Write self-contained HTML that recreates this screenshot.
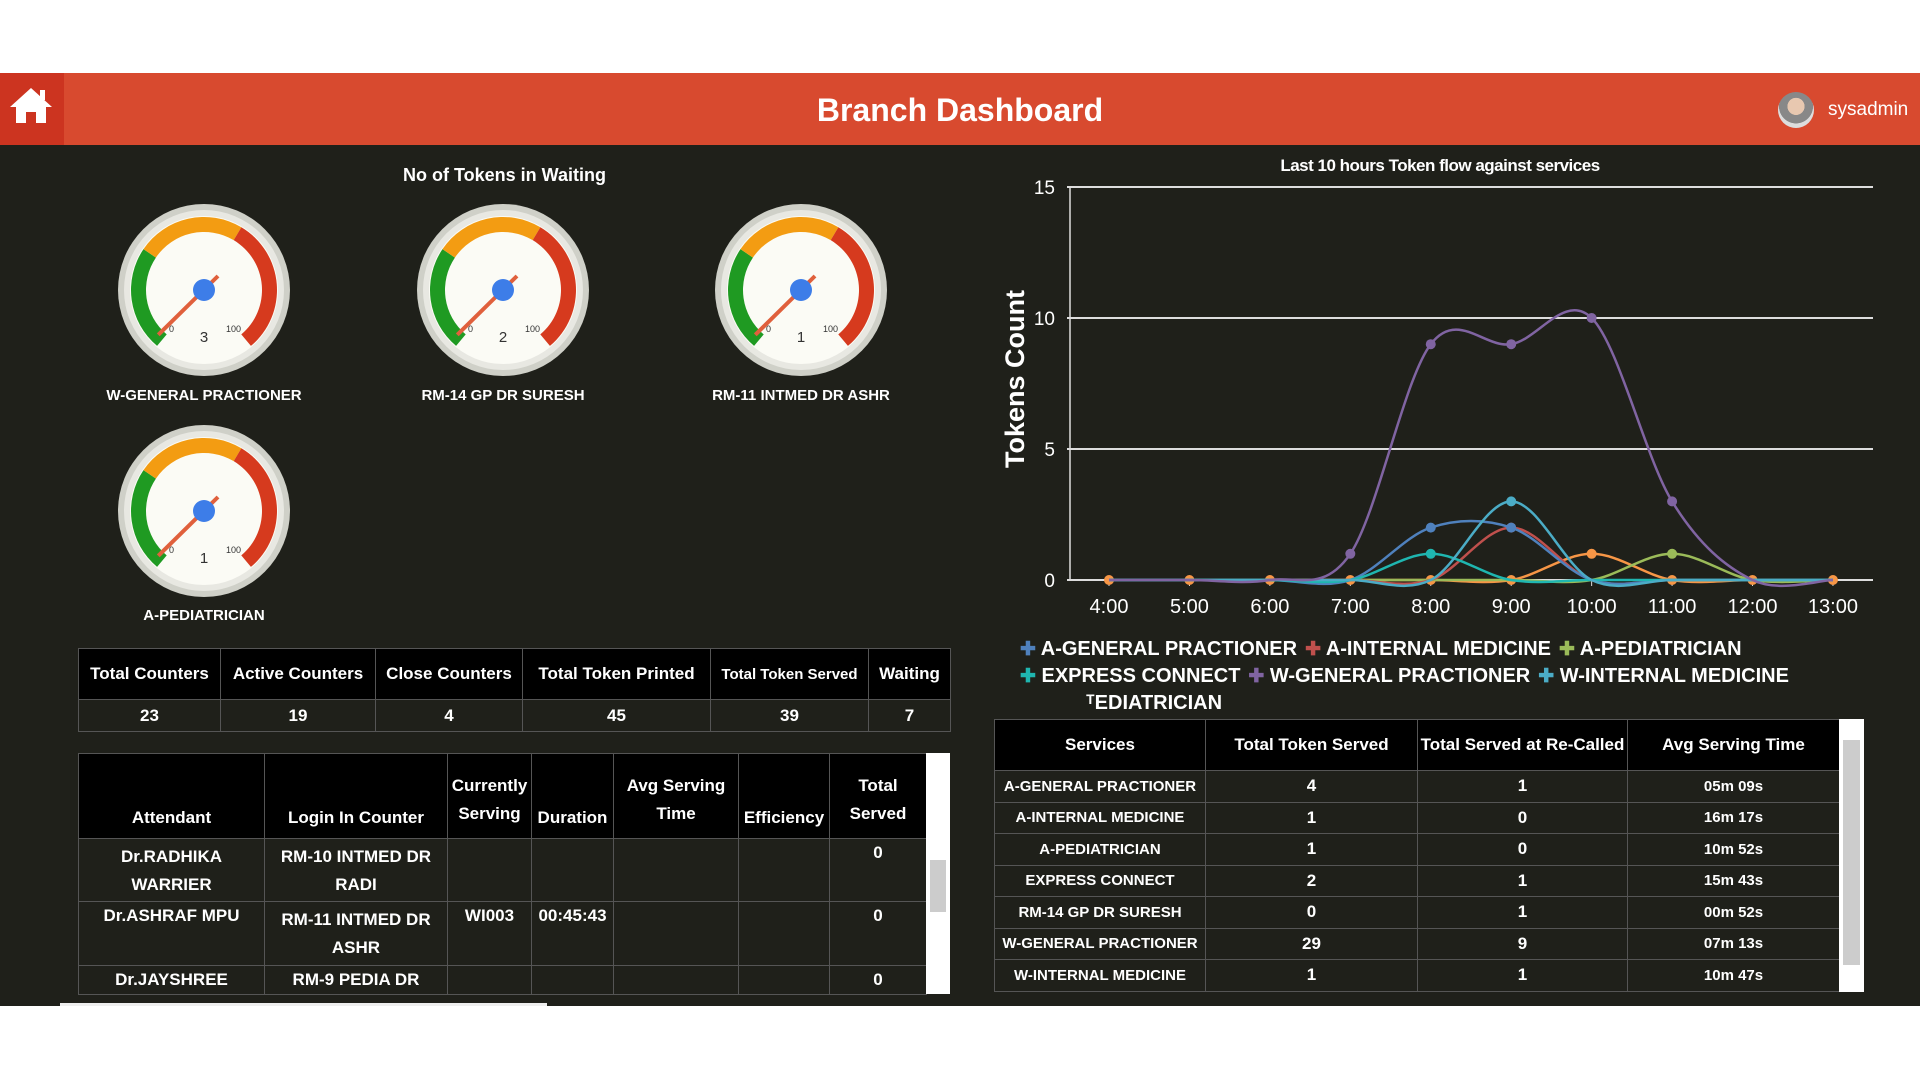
<!DOCTYPE html>
<html><head><meta charset="utf-8">
<style>
*{margin:0;padding:0;box-sizing:border-box}
body{width:1920px;height:1080px;background:#fff;position:relative;overflow:hidden;font-family:"Liberation Sans Narrow","Liberation Sans",sans-serif;color:#fff}
.abs{position:absolute}
#hdr{left:0;top:73px;width:1920px;height:72px;background:#d84a2f}
#home{left:0;top:73px;width:64px;height:72px;background:#cc3420}
#main{left:0;top:145px;width:1920px;height:861px;background:#1f201a}
.t{position:absolute;white-space:nowrap;font-weight:bold}
table{border-collapse:collapse;position:absolute;table-layout:fixed}
td,th{border:1px solid #555;text-align:center;font-weight:bold;font-size:17px;color:#fff}
th{background:#000}
td{background:#1f201a}
</style></head><body>
<div id="hdr" class="abs"></div>
<div id="home" class="abs"></div>
<svg class="abs" style="left:8px;top:85px" width="46" height="40" viewBox="0 0 46 40">
<path d="M23 3 L44 22 L38 22 L38 38 L28 38 L28 27 L18 27 L18 38 L8 38 L8 22 L2 22 Z" fill="#fff"/><rect x="32" y="5" width="5" height="10" fill="#fff"/></svg>
<div class="t" style="left:760px;top:92px;width:400px;text-align:center;font-size:32px;font-family:'Liberation Sans',sans-serif">Branch Dashboard</div>
<div class="abs" style="left:1778px;top:92px;width:36px;height:36px;border-radius:50%;background:radial-gradient(circle at 50% 40%,#e8c8b0 0 30%,#888 31% 60%,#ddd 61%)"></div>
<div class="t" style="left:1828px;top:99px;font-size:19px;font-family:'Liberation Sans',sans-serif;font-weight:normal">sysadmin</div>
<div id="main" class="abs"></div>

<div class="t" style="left:403px;top:165px;width:200px;text-align:center;font-size:18px">No of Tokens in Waiting</div>
<svg id="gauges" class="abs" style="left:0;top:0" width="960" height="700"></svg>
<div class="t" style="left:54px;top:387px;width:300px;text-align:center;font-size:15px">W-GENERAL PRACTIONER</div>
<div class="t" style="left:353px;top:387px;width:300px;text-align:center;font-size:15px">RM-14 GP DR SURESH</div>
<div class="t" style="left:651px;top:387px;width:300px;text-align:center;font-size:15px">RM-11 INTMED DR ASHR</div>
<div class="t" style="left:54px;top:607px;width:300px;text-align:center;font-size:15px">A-PEDIATRICIAN</div>

<svg id="chart" class="abs" style="left:960px;top:145px" width="960" height="600"></svg>
<div class="t" style="left:1240px;top:156px;width:400px;text-align:center;font-size:17px;letter-spacing:-0.5px">Last 10 hours Token flow against services</div>
<div class="t" style="font-size:27px;font-family:'Liberation Sans',sans-serif;transform:rotate(-90deg);transform-origin:0 0;left:1000px;top:468px">Tokens Count</div>

<div class="abs" id="legend" style="left:1020px;top:636px;width:880px;font-size:20px;font-weight:bold;line-height:27px"></div>

<table style="left:78px;top:648px;width:872px">
<colgroup><col style="width:142px"><col style="width:155px"><col style="width:147px"><col style="width:188px"><col style="width:158px"><col style="width:82px"></colgroup>
<tr style="height:51px"><th>Total Counters</th><th>Active Counters</th><th>Close Counters</th><th>Total Token Printed</th><th style="font-size:15px">Total Token Served</th><th>Waiting</th></tr>
<tr style="height:32px"><td>23</td><td>19</td><td>4</td><td>45</td><td>39</td><td>7</td></tr>
</table>

<table style="left:78px;top:753px;width:848px">
<colgroup><col style="width:186px"><col style="width:183px"><col style="width:84px"><col style="width:82px"><col style="width:125px"><col style="width:91px"><col style="width:97px"></colgroup>
<tr style="height:85px"><th style="vertical-align:bottom;padding-bottom:10px">Attendant</th><th style="vertical-align:bottom;padding-bottom:10px">Login In Counter</th><th style="vertical-align:bottom;padding-bottom:10px;line-height:28px">Currently<br>Serving</th><th style="vertical-align:bottom;padding-bottom:10px">Duration</th><th style="vertical-align:bottom;padding-bottom:10px;line-height:28px">Avg Serving<br>Time</th><th style="vertical-align:bottom;padding-bottom:10px">Efficiency</th><th style="vertical-align:bottom;padding-bottom:10px;line-height:28px">Total<br>Served</th></tr>
<tr style="height:63px"><td style="line-height:28px;vertical-align:top;padding-top:4px">Dr.RADHIKA<br>WARRIER</td><td style="line-height:28px;vertical-align:top;padding-top:4px">RM-10 INTMED DR<br>RADI</td><td></td><td></td><td></td><td></td><td style="vertical-align:top;padding-top:4px">0</td></tr>
<tr style="height:64px"><td style="vertical-align:top;padding-top:4px">Dr.ASHRAF MPU</td><td style="line-height:28px;vertical-align:top;padding-top:4px">RM-11 INTMED DR<br>ASHR</td><td style="vertical-align:top;padding-top:4px">WI003</td><td style="vertical-align:top;padding-top:4px">00:45:43</td><td></td><td></td><td style="vertical-align:top;padding-top:4px">0</td></tr>
<tr style="height:29px"><td>Dr.JAYSHREE</td><td>RM-9 PEDIA DR</td><td></td><td></td><td></td><td></td><td>0</td></tr>
</table>
<div class="abs" style="left:926px;top:753px;width:24px;height:241px;background:#fff"></div>
<div class="abs" style="left:930px;top:860px;width:16px;height:52px;background:#ccc"></div>
<div class="abs" style="left:60px;top:1003px;width:487px;height:3px;background:#eee"></div>

<table style="left:994px;top:719px;width:845px">
<colgroup><col style="width:211px"><col style="width:212px"><col style="width:210px"><col style="width:212px"></colgroup>
<tr style="height:51px"><th>Services</th><th>Total Token Served</th><th>Total Served at Re-Called</th><th>Avg Serving Time</th></tr>
<tr style="height:31.5px"><td style="font-size:15px">A-GENERAL PRACTIONER</td><td>4</td><td>1</td><td style="font-size:15px">05m 09s</td></tr>
<tr style="height:31.5px"><td style="font-size:15px">A-INTERNAL MEDICINE</td><td>1</td><td>0</td><td style="font-size:15px">16m 17s</td></tr>
<tr style="height:31.5px"><td style="font-size:15px">A-PEDIATRICIAN</td><td>1</td><td>0</td><td style="font-size:15px">10m 52s</td></tr>
<tr style="height:31.5px"><td style="font-size:15px">EXPRESS CONNECT</td><td>2</td><td>1</td><td style="font-size:15px">15m 43s</td></tr>
<tr style="height:31.5px"><td style="font-size:15px">RM-14 GP DR SURESH</td><td>0</td><td>1</td><td style="font-size:15px">00m 52s</td></tr>
<tr style="height:31.5px"><td style="font-size:15px">W-GENERAL PRACTIONER</td><td>29</td><td>9</td><td style="font-size:15px">07m 13s</td></tr>
<tr style="height:31.5px"><td style="font-size:15px">W-INTERNAL MEDICINE</td><td>1</td><td>1</td><td style="font-size:15px">10m 47s</td></tr>
</table>
<div class="abs" style="left:1839px;top:719px;width:25px;height:273px;background:#fff"></div>
<div class="abs" style="left:1843px;top:740px;width:17px;height:225px;background:#ccc"></div>

<script>
var NS="http://www.w3.org/2000/svg";
function el(p,t,a,txt){var e=document.createElementNS(NS,t);for(var k in a)e.setAttribute(k,a[k]);if(txt!=null)e.textContent=txt;p.appendChild(e);return e;}
var g=document.getElementById('gauges');
var G=[[204,290,3],[503,290,2],[801,290,1],[204,511,1]];
function pt(cx,cy,r,v){var a=(-140+280*v/100)*Math.PI/180;return [cx+r*Math.sin(a),cy-r*Math.cos(a)];}
function arc(cx,cy,r1,r2,v1,v2,c){var a=pt(cx,cy,r2,v1),b=pt(cx,cy,r2,v2),c1=pt(cx,cy,r1,v2),d=pt(cx,cy,r1,v1);var lg=(v2-v1)*2.8>180?1:0;
el(g,'path',{d:'M'+a+' A'+r2+' '+r2+' 0 '+lg+' 1 '+b+' L'+c1+' A'+r1+' '+r1+' 0 '+lg+' 0 '+d+' Z',fill:c});}
G.forEach(function(q){var cx=q[0],cy=q[1];
el(g,'circle',{cx:cx,cy:cy,r:86,fill:'#cfd0c8'});
el(g,'circle',{cx:cx,cy:cy,r:80,fill:'#e8e8e2'});
el(g,'circle',{cx:cx,cy:cy,r:74,fill:'#fbfbf5'});
arc(cx,cy,58,73,0,30,'#1f9a22');arc(cx,cy,58,73,30,61,'#f39c12');arc(cx,cy,58,73,61,100,'#d63a1e');
el(g,'text',{x:cx-35,y:cy+42,'font-size':9,fill:'#333'},'0');
el(g,'text',{x:cx+22,y:cy+42,'font-size':9,fill:'#333'},'100');
el(g,'text',{x:cx,y:cy+52,'font-size':15,fill:'#333','text-anchor':'middle','font-family':'Liberation Sans'},q[2]);
var p=pt(cx,cy,64,2);el(g,'line',{x1:cx+14,y1:cy-14,x2:p[0],y2:p[1],stroke:'#e0603c','stroke-width':4});
el(g,'circle',{cx:cx,cy:cy,r:11,fill:'#3d7de8'});
});
var c=document.getElementById('chart');
var X0=1109-960,DX=80.44,Y0=580-145,DY=26.2;
[0,5,10,15].forEach(function(v){var y=Y0-v*DY;el(c,'line',{x1:107,x2:913,y1:y,y2:y,stroke:'#ddd','stroke-width':2});
el(c,'text',{x:95,y:y+7,'font-size':19,fill:'#fff','text-anchor':'end','font-family':'Liberation Sans Narrow,Liberation Sans'},v);});
el(c,'line',{x1:110,x2:110,y1:Y0-15*DY,y2:Y0,stroke:'#ddd','stroke-width':1.5});
for(var i=0;i<10;i++){var x=X0+i*DX;el(c,'line',{x1:x,x2:x,y1:Y0,y2:Y0+6,stroke:'#ddd'});
el(c,'text',{x:x,y:Y0+33,'font-size':20,fill:'#fff','text-anchor':'middle','font-family':'Liberation Sans Narrow,Liberation Sans'},(i+4)+':00');}
var S=[
['#f79646',[0,0,0,0,0,0,1,0,0,0]],
['#9bbb59',[0,0,0,0,0,0,0,1,0,0]],
['#c0504d',[0,0,0,0,0,2,0,0,0,0]],
['#4f81bd',[0,0,0,0,2,2,0,0,0,0]],
['#1fb6b0',[0,0,0,0,1,0,0,0,0,0]],
['#4bacc6',[0,0,0,0,0,3,0,0,0,0]],
['#8064a2',[0,0,0,1,9,9,10,3,0,0]]];
S.forEach(function(s){var P=s[1].map(function(v,i){return [X0+i*DX,Y0-v*DY];});
var d='M'+P[0];for(var i=0;i<P.length-1;i++){var p0=P[Math.max(i-1,0)],p1=P[i],p2=P[i+1],p3=P[Math.min(i+2,P.length-1)];
var t=0.5/3;d+=' C'+(p1[0]+(p2[0]-p0[0])*t)+','+(p1[1]+(p2[1]-p0[1])*t)+' '+(p2[0]-(p3[0]-p1[0])*t)+','+(p2[1]-(p3[1]-p1[1])*t)+' '+p2;}
el(c,'path',{d:d,fill:'none',stroke:s[0],'stroke-width':2.5});
P.forEach(function(p,i){if(s[1][i]>0||s[0]=='#f79646')el(c,'circle',{cx:p[0],cy:p[1],r:5,fill:s[0]});});});
var L=[['#4f81bd','A-GENERAL PRACTIONER'],['#c0504d','A-INTERNAL MEDICINE'],['#9bbb59','A-PEDIATRICIAN'],['#1fb6b0','EXPRESS CONNECT'],['#8064a2','W-GENERAL PRACTIONER'],['#4bacc6','W-INTERNAL MEDICINE']];
var h='';L.forEach(function(l,i){h+='<span style="color:'+l[0]+';font-size:19px">&#10010;</span> <span style="margin-right:8px">'+l[1]+'</span>';if(i==2)h+='<br>';});
h+='<br><span style="margin-left:66px">&#7488;EDIATRICIAN</span>';
document.getElementById('legend').innerHTML=h;
</script>
</body></html>
